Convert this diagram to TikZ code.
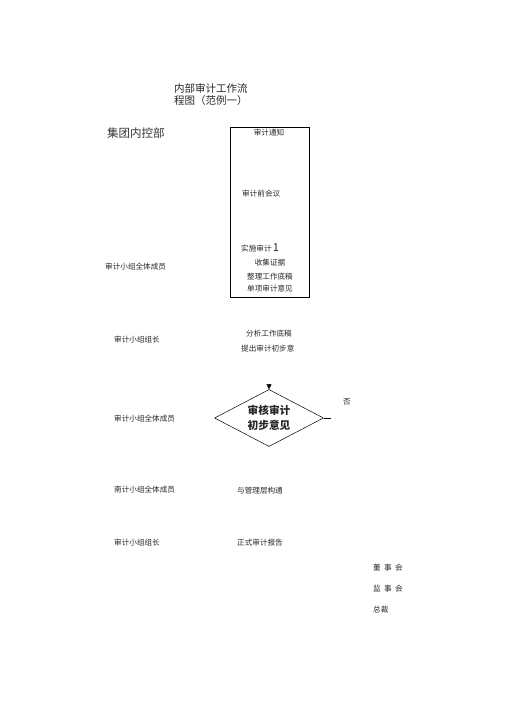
\documentclass[tikz,border=0pt]{standalone}
\usepackage{fontspec}
\newfontfamily\cjk{Noto Sans CJK SC}
\usetikzlibrary{shapes.geometric,arrows.meta}
\tikzset{
  sm/.style={font=\cjk\fontsize{7.6}{9}\selectfont, text=black!85, inner sep=0pt},
  ttl/.style={font=\cjk\fontsize{10.5}{12}\selectfont, text=black!85, inner sep=0pt, anchor=west},
  big/.style={font=\cjk\fontsize{11.5}{13}\selectfont, text=black!80, inner sep=0pt, anchor=west},
  dia/.style={diamond, draw, line width=0.5pt, aspect=1.9, minimum width=109pt, minimum height=57pt, inner sep=0pt, align=center, font=\cjk\bfseries\fontsize{10.7}{15}\selectfont, text=black!85},
  boxs/.style={draw, line width=0.8pt}
}
\begin{document}
\begin{tikzpicture}[x=1pt,y=-1pt]
\useasboundingbox (0,0) rectangle (505,714);
% title
\node[ttl] (t1) at (174,88) {内部审计工作流};
\node[ttl] (t2) at (174,101) {程图（范例一）};
\node[big] (dept) at (107,133) {集团内控部};
% box
\draw[boxs] (230,127) rectangle (309,297);
\node[sm] (n1) at (269,132.5) {审计通知};
\node[sm,anchor=west] (n2) at (242,194) {审计前会议};
\node[sm,anchor=west] (n3) at (241,248) {实施审计\,\fontsize{11}{12}\selectfont 1};
\node[sm] (n4) at (270,263) {收集证据};
\node[sm] (n5) at (270,277) {整理工作底稿};
\node[sm] (n6) at (270,289) {单项审计意见};
% left labels
\node[sm,anchor=west] (l1) at (105,267) {审计小组全体成员};
\node[sm,anchor=west] (l2) at (114,340) {审计小组组长};
\node[sm,anchor=west] (l3) at (114,419) {审计小组全体成员};
\node[sm,anchor=west] (l4) at (114,490) {南计小组全体成员};
\node[sm,anchor=west] (l5) at (114,543) {审计小组组长};
% middle
\node[sm] (m1) at (269,334) {分析工作底稿};
\node[sm,anchor=west] (m2) at (241,349) {提出审计初步意};
\node[dia] (d) at (269,418) {审核审计\\初步意见};
\coordinate (dtop) at (269,384);
\draw[-{Triangle[length=5pt,width=5pt]}] (dtop) -- (d.north);
\coordinate (dr) at (331,418);
\draw[line width=0.6pt] (d.east) -- (dr);
\node[sm,anchor=west] (no) at (343,402) {否};
\node[sm,anchor=west] (m3) at (237,491) {与管理层构通};
\node[sm,anchor=west] (m4) at (237,543) {正式审计报告};
% right
\node[sm,anchor=west] (r1) at (373,568) {董\ \ 事\ \ 会};
\node[sm,anchor=west] (r2) at (373,589) {监\ \ 事\ \ 会};
\node[sm,anchor=west] (r3) at (373,610) {总裁};
\end{tikzpicture}
\end{document}
